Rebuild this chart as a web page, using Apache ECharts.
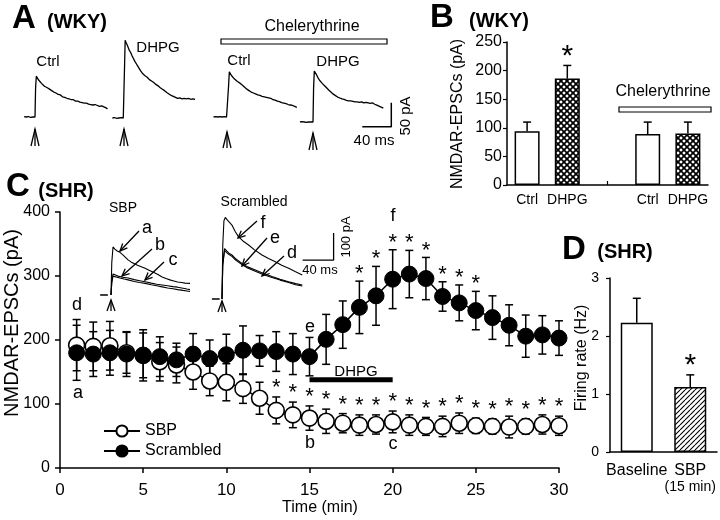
<!DOCTYPE html>
<html>
<head>
<meta charset="utf-8">
<script src="https://cdn.jsdelivr.net/npm/echarts@6/dist/echarts.min.js"></script>
<style>
html, body { margin: 0; padding: 0; background: #fff; }
#chart { width: 720px; height: 520px; }
</style>
</head>
<body>
<div id="chart"></div>
<script>
// ---------- panel A: example EPSC traces, [ms, pA] ----------
const wkyCtrlTrace = [[-15,1],[-12,0],[-9,1],[-6,-1],[-3,0],[0,0],[0.8,60],[1.8,85],[3,82],[5,77],[7,74],[9,70],[11,68],[13,64],[15,63],[17,61],[20,58],[23,55],[26,52],[29,50],[32,47],[35,46],[38,42],[41,41],[44,39],[47,38],[50,36],[53,36],[56,33],[59,33],[62,31],[65,30],[68,29],[71,29],[74,27],[77,26],[80,25],[83,26],[86,24],[89,22],[92,23],[95,21],[98,19],[100,17]]
const wkyDhpgTrace = [[-16,0],[-13,1],[-10,-1],[-7,0],[-4,1],[-1,0],[0,0],[0.8,110],[1.6,162],[3,157],[5,150],[7,142],[9,137],[11,130],[13,124],[15,118],[17,113],[19,108],[21,103],[23,98],[26,92],[29,88],[32,85],[35,80],[38,77],[41,74],[44,70],[47,67],[50,63],[53,60],[56,57],[59,53],[62,50],[65,47],[68,45],[71,43],[74,41],[77,42],[80,40],[83,41],[86,40],[89,41],[92,39],[95,40],[98,39]]
const chelCtrlTrace = [[-20,0],[-17,1],[-14,0],[-11,1],[-8,0],[-5,1],[-2,0],[0,0],[0.8,65],[1.8,94],[3,91],[5,86],[7,82],[9,79],[11,76],[13,74],[15,72],[17,70],[20,66],[23,62],[26,58],[29,55],[32,52],[35,50],[38,48],[41,46],[44,45],[47,43],[50,42],[53,41],[56,40],[59,39],[62,36],[65,35],[68,33],[71,32],[74,30],[77,29],[80,28],[83,26],[86,25],[89,24],[92,22],[95,20]]
const chelDhpgTrace = [[-18,0],[-15,1],[-12,0],[-9,-1],[-6,0],[-3,0],[0,0],[0.8,70],[1.8,106],[3,104],[5,98],[7,92],[9,87],[11,83],[13,80],[15,77],[17,74],[19,71],[22,66],[25,62],[28,58],[31,55],[34,52],[37,50],[40,48],[43,47],[46,45],[49,44],[52,44],[55,43],[58,42],[61,42],[64,41],[67,42],[70,40],[73,41],[76,40],[79,39],[82,40],[85,37],[88,35],[91,33],[94,31],[97,29]]
const scaleBarA = [[68,-10],[108,-10],[108,40]]   // 40 ms / 50 pA

// ---------- panel C insets, [ms, pA] ----------
const sbpBase = [[-14,0],[-4,0]]
const traceA = [[0,0],[1,120],[2.6,178],[5,170],[8,163],[11.6,158],[16,147],[22,130],[27,120],[33.5,111],[39,105],[44,99],[49,92],[54,85],[60,77],[66,67],[71,61],[76,56],[81,52],[86,48],[91,46],[95.5,44],[102,43]]
const traceB = [[0,0],[1,50],[2.6,78],[5,74],[9,70],[15,66],[22,63],[30,57],[37,53],[44,49],[52,44],[59,40],[66,37],[73,34],[80,31],[86,29],[93,25],[98,22],[102,20]]
const traceC = [[0,0],[1,45],[2.6,70],[5,67],[11.6,63],[17,59],[22,56],[30,50],[37,46],[44,43],[52,38],[59,34],[66,30],[73,26],[80,23],[86,20],[93,17],[98,15],[102,13]]
const scrBase = [[-13,0],[-3,0]]
const traceF = [[0,0],[1,200],[2.5,290],[4.3,302],[7,292],[10,283],[12.8,274],[17,250],[21.4,230],[27,215],[34.3,200],[42,182],[51.6,163],[60,150],[68.8,138],[77,125],[86,114],[95,101],[103.6,89]]
const traceE = [[0,0],[1,130],[3.3,187],[6,178],[9,170],[12.8,163],[18,148],[25.8,132],[33,119],[43,107],[53,95],[64.5,83],[75,73],[86,64],[95,57],[103.6,52]]
const traceD = [[0,0],[1,125],[3.3,180],[6,172],[9,165],[12.8,158],[18,143],[25.8,128],[33,115],[43,103],[53,91],[64.5,80],[75,70],[86,61],[95,53],[103.6,48]]
const scaleBarC = [[104,144],[144,144],[144,244]]  // 40 ms / 100 pA

// ---------- panel B ----------
const bCats = ['Ctrl', 'DHPG', '', 'Ctrl', 'DHPG']
const bMean = [94, 186, null, 89, 90]
const bSem = [16, 23, null, 21, 20]

// ---------- panel C time course ----------
const cTime = [1,2,3,4,5,6,7,8,9,10,11,12,13,14,15,16,17,18,19,20,21,22,23,24,25,26,27,28,29,30]
const sbpMean = [192,190,191,180,176,166,161,150,136,134,124,109,90,83,78,73,70,67,68,72,67,65,65,70,66,65,64,65,68,66]
const sbpSem = [40,38,38,32,35,30,28,27,23,29,23,25,21,20,19,19,15,16,15,17,16,14,16,16,12,12,17,12,15,15]
const scrMean = [180,178,180,178,176,174,169,178,171,177,184,183,182,178,174,201,224,251,269,295,303,296,268,258,246,235,223,206,208,203]
const scrSem = [43,35,35,35,40,31,26,32,29,32,38,24,31,32,30,39,37,41,46,46,37,33,23,28,30,34,32,33,30,27]
const sbpStars = [13,14,15,16,17,18,19,20,21,22,23,24,25,26,27,28,29,30]
const scrStars = [18,19,20,21,22,23,24,25]
const dhpgBar = [[15,138],[20,138]]

// ---------- panel D ----------
const dCats = ['Baseline', 'SBP']
const dMean = [2.23, 1.12]
const dSem = [0.42, 0.21]

const FONT = '"Liberation Sans", Arial, sans-serif'
const chart = echarts.init(document.getElementById('chart'))

function crossPattern () {
  const c = document.createElement('canvas')
  c.width = 6; c.height = 6
  const g = c.getContext('2d')
  g.fillStyle = '#fff'; g.fillRect(0, 0, 6, 6)
  g.strokeStyle = '#000'; g.lineWidth = 1.7
  g.beginPath()
  for (const k of [-6, 0, 6]) {
    g.moveTo(k, 0); g.lineTo(k + 6, 6)
    g.moveTo(k + 6, 0); g.lineTo(k, 6)
  }
  g.stroke()
  return c
}
function slashPattern () {
  const c = document.createElement('canvas')
  c.width = 5; c.height = 5
  const g = c.getContext('2d')
  g.fillStyle = '#fff'; g.fillRect(0, 0, 5, 5)
  g.strokeStyle = '#000'; g.lineWidth = 1.1
  g.beginPath()
  for (const k of [-5, 0, 5]) { g.moveTo(k, 5); g.lineTo(k + 5, 0) }
  g.stroke()
  return c
}
const crossFill = { image: crossPattern(), repeat: 'repeat' }
const slashFill = { image: slashPattern(), repeat: 'repeat' }

// place a hidden grid so that (0 ms, 0 pA) lands on the stimulus pixel
function traceGrid (sx, sy, t0, t1, a0, a1, kx, ky) {
  return {
    grid: { left: sx + t0 * kx, top: sy - a1 * ky, width: (t1 - t0) * kx, height: (a1 - a0) * ky, outerBoundsMode: 'none', containLabel: false },
    x: { type: 'value', min: t0, max: t1, show: false },
    y: { type: 'value', min: a0, max: a1, show: false }
  }
}
const tg = [
  traceGrid(35, 117, -16, 102, -12, 170, 0.725, 0.48),
  traceGrid(124, 118, -18, 100, -12, 170, 0.725, 0.48),
  traceGrid(228, 117, -22, 98, -12, 170, 0.725, 0.48),
  traceGrid(313, 122, -20, 110, -15, 170, 0.725, 0.48),
  traceGrid(111, 295, -16, 104, -10, 200, 0.775, 0.27),
  traceGrid(222, 299, -16, 150, -10, 320, 0.775, 0.27)
]

const grids = tg.map(t => t.grid).concat([
  { left: 507, top: 42, right: 12, bottom: 335, outerBoundsMode: 'none', containLabel: false },
  { left: 60, top: 212, right: 161, bottom: 52, outerBoundsMode: 'none', containLabel: false },
  { left: 610, top: 278, right: 3, bottom: 68, outerBoundsMode: 'none', containLabel: false }
])

const axisLine = { show: true, lineStyle: { color: '#000', width: 1.5 } }
const tickOut = { show: true, length: 5, lineStyle: { color: '#000', width: 1.5 } }

const xAxes = tg.map(t => t.x).concat([
  { type: 'category', gridIndex: 6, data: bCats, axisLine,
    axisTick: { show: true, inside: true, length: 4, alignWithLabel: true, interval: (i) => i === 2, lineStyle: { color: '#000', width: 1.2 } },
    axisLabel: { interval: 0, fontSize: 14, color: '#000', margin: 8, fontFamily: FONT } },
  { type: 'value', gridIndex: 7, min: 0, max: 30, interval: 5, axisLine, axisTick: tickOut, splitLine: { show: false },
    axisLabel: { fontSize: 17, color: '#000', margin: 14, fontFamily: FONT } },
  { type: 'category', gridIndex: 8, data: dCats, axisLine, axisTick: { show: false },
    axisLabel: {
      interval: 0, margin: 10, color: '#000', fontFamily: FONT,
      formatter: (v) => v === 'SBP' ? '{a|SBP}\n{b|(15 min)}' : '{a|' + v + '}',
      rich: { a: { fontSize: 16, lineHeight: 17, fontFamily: FONT }, b: { fontSize: 14, lineHeight: 16, fontFamily: FONT } }
    } }
])
xAxes.forEach((a, i) => { if (i < 6) a.gridIndex = i })

const yAxes = tg.map(t => t.y).concat([
  { type: 'value', gridIndex: 6, min: 0, max: 250, interval: 50, axisLine, axisTick: { show: true, length: 4, lineStyle: { color: '#000', width: 1.2 } },
    splitLine: { show: false }, axisLabel: { fontSize: 16, color: '#000', margin: 5, fontFamily: FONT } },
  { type: 'value', gridIndex: 7, min: 0, max: 400, interval: 100, axisLine, axisTick: tickOut,
    splitLine: { show: false }, axisLabel: { fontSize: 16, color: '#000', margin: 10, fontFamily: FONT } },
  { type: 'value', gridIndex: 8, min: 0, max: 3, interval: 1, axisLine, axisTick: { show: true, length: 4, lineStyle: { color: '#000', width: 1.2 } },
    splitLine: { show: false }, axisLabel: { fontSize: 14, color: '#000', margin: 11, fontFamily: FONT } }
])
yAxes.forEach((a, i) => { if (i < 6) a.gridIndex = i })

function trace (data, idx, w) {
  return { type: 'line', xAxisIndex: idx, yAxisIndex: idx, data, showSymbol: false, symbol: 'none',
    lineStyle: { color: '#000', width: w || 1.3 }, silent: true, z: 2 }
}

function errBars (both, capW) {
  return function (params, api) {
    const x = api.value(0)
    const y = api.value(1)
    const e = api.value(2)
    const top = api.coord([x, y + e])
    const bot = api.coord([x, both ? y - e : y])
    const st = { stroke: '#000', lineWidth: 1.5 }
    const ch = [
      { type: 'line', shape: { x1: top[0], y1: top[1], x2: bot[0], y2: bot[1] }, style: st },
      { type: 'line', shape: { x1: top[0] - capW / 2, y1: top[1], x2: top[0] + capW / 2, y2: top[1] }, style: st }
    ]
    if (both) ch.push({ type: 'line', shape: { x1: bot[0] - capW / 2, y1: bot[1], x2: bot[0] + capW / 2, y2: bot[1] }, style: st })
    return { type: 'group', children: ch }
  }
}

function starSeries (data, idx, size, gap) {
  return {
    type: 'custom', xAxisIndex: idx, yAxisIndex: idx, data, silent: true, z: 6,
    renderItem: (params, api) => {
      const p = api.coord([api.value(0), api.value(1)])
      return { type: 'text', x: p[0], y: p[1] - gap,
        style: { text: '*', font: size + 'px ' + FONT, fill: '#000', align: 'center', verticalAlign: 'middle', textAlign: 'center', textVerticalAlign: 'middle' } }
    }
  }
}

const sbpErr = cTime.map((t, i) => [t, sbpMean[i], sbpSem[i]])
const scrErr = cTime.map((t, i) => [t, scrMean[i], scrSem[i]])
const sbpStarPts = sbpStars.map(t => { const i = cTime.indexOf(t); return [t, sbpMean[i] + sbpSem[i]] })
const scrStarPts = scrStars.map(t => { const i = cTime.indexOf(t); return [t, scrMean[i] + scrSem[i]] })
const bErr = bMean.map((v, i) => v == null ? null : [i, v, bSem[i]]).filter(d => d)
const dErr = dMean.map((v, i) => [i, v, dSem[i]])

const series = [
  trace(wkyCtrlTrace, 0), trace(wkyDhpgTrace, 1), trace(chelCtrlTrace, 2), trace(chelDhpgTrace, 3),
  trace(scaleBarA, 3, 1.5),
  trace(sbpBase, 4, 1.5), trace(traceA, 4, 1.1), trace(traceB, 4, 1.1), trace(traceC, 4, 1.1),
  trace(scrBase, 5, 1.5), trace(traceF, 5, 1.1), trace(traceE, 5, 1.1), trace(traceD, 5, 1.1),
  trace(scaleBarC, 5, 1.3),
  // panel B
  { type: 'bar', xAxisIndex: 6, yAxisIndex: 6, barWidth: 25, silent: true, z: 2,
    data: bMean.map((v, i) => ({ value: v == null ? '-' : v,
      itemStyle: { color: bCats[i] === 'DHPG' ? crossFill : '#fff', borderColor: '#000', borderWidth: 1.5 } })) },
  { type: 'custom', xAxisIndex: 6, yAxisIndex: 6, data: bErr, renderItem: errBars(false, 8), silent: true, z: 1 },
  starSeries([[1, bMean[1] + bSem[1]]], 6, 30, 9),
  // panel C
  { type: 'custom', xAxisIndex: 7, yAxisIndex: 7, data: sbpErr, renderItem: errBars(true, 8), silent: true, z: 1 },
  { type: 'custom', xAxisIndex: 7, yAxisIndex: 7, data: scrErr, renderItem: errBars(true, 8), silent: true, z: 1 },
  { name: 'SBP', type: 'line', xAxisIndex: 7, yAxisIndex: 7, data: cTime.map((t, i) => [t, sbpMean[i]]),
    symbol: 'circle', symbolSize: 16, showSymbol: true, lineStyle: { color: '#000', width: 1.5 },
    itemStyle: { color: '#fff', borderColor: '#000', borderWidth: 1.6 }, z: 3, silent: true },
  { name: 'Scrambled', type: 'line', xAxisIndex: 7, yAxisIndex: 7, data: cTime.map((t, i) => [t, scrMean[i]]),
    symbol: 'circle', symbolSize: 16, showSymbol: true, lineStyle: { color: '#000', width: 1.5 },
    itemStyle: { color: '#000', borderColor: '#000', borderWidth: 1 }, z: 4, silent: true },
  { type: 'line', xAxisIndex: 7, yAxisIndex: 7, data: dhpgBar, symbol: 'none', lineStyle: { color: '#000', width: 5 }, silent: true, z: 2 },
  starSeries(sbpStarPts, 7, 22, 9),
  starSeries(scrStarPts, 7, 22, 7),
  // panel D
  { type: 'bar', xAxisIndex: 8, yAxisIndex: 8, barWidth: 32, silent: true, z: 2,
    data: dMean.map((v, i) => ({ value: v,
      itemStyle: { color: i === 1 ? slashFill : '#fff', borderColor: '#000', borderWidth: 1.5 } })) },
  { type: 'custom', xAxisIndex: 8, yAxisIndex: 8, data: dErr, renderItem: errBars(false, 8), silent: true, z: 1 },
  starSeries([[1, dMean[1] + dSem[1]]], 8, 30, 9)
]

// ---------- annotations ----------
function txt (s, x, y, size, bold, rot) {
  return { type: 'text', x, y, rotation: rot || 0, silent: true,
    style: { text: s, font: (bold ? 'bold ' : '') + size + 'px ' + FONT, fill: '#000',
      align: 'center', verticalAlign: 'middle', textAlign: 'center', textVerticalAlign: 'middle' } }
}
function arrow (x1, y1, x2, y2) {
  const a = Math.atan2(y2 - y1, x2 - x1)
  const L = 8
  const w = 0.42
  const p1 = [x2 - L * Math.cos(a - w), y2 - L * Math.sin(a - w)]
  const p2 = [x2 - L * Math.cos(a + w), y2 - L * Math.sin(a + w)]
  return [
    { type: 'line', silent: true, shape: { x1, y1, x2, y2 }, style: { stroke: '#000', lineWidth: 1.3 } },
    { type: 'polyline', silent: true, shape: { points: [p1, [x2, y2], p2] }, style: { stroke: '#000', fill: null, lineWidth: 1.3 } }
  ]
}
function stim (x, y0, y1) {
  return [
    { type: 'polyline', silent: true, shape: { points: [[x - 4, y1], [x, y0], [x + 4, y1]] }, style: { stroke: '#000', fill: null, lineWidth: 1.3 } },
    { type: 'line', silent: true, shape: { x1: x, y1: y0, x2: x, y2: y1 }, style: { stroke: '#000', lineWidth: 1.3 } }
  ]
}
function openBar (x, y, w, h) {
  return { type: 'rect', silent: true, shape: { x, y, width: w, height: h }, style: { fill: '#fff', stroke: '#000', lineWidth: 1.2 } }
}

const elements = [
  txt('A', 24, 19, 33, true), txt('(WKY)', 77, 22, 20, true),
  txt('B', 442, 18, 33, true), txt('(WKY)', 499, 21, 20, true),
  txt('C', 18, 187, 33, true), txt('(SHR)', 66, 191, 20, true),
  txt('D', 574, 250, 33, true), txt('(SHR)', 625, 252, 20, true),
  // panel A
  txt('Ctrl', 48, 62, 15), txt('DHPG', 158, 48, 15), txt('Chelerythrine', 312, 27, 16),
  txt('Ctrl', 239, 61, 15), txt('DHPG', 338, 62, 15),
  openBar(221, 39, 166, 5),
  txt('50 pA', 406, 116, 15, false, Math.PI / 2), txt('40 ms', 374, 141, 15),
  ...stim(35, 129, 146), ...stim(124, 129, 146), ...stim(227, 132, 148), ...stim(313, 133, 150),
  // panel B
  txt('Chelerythrine', 663, 92, 16), openBar(619, 107, 92, 5),
  txt('NMDAR-EPSCs (pA)', 458, 114, 16, false, Math.PI / 2),
  // panel C
  txt('NMDAR-EPSCs (pA)', 12, 323, 20, false, Math.PI / 2),
  txt('Time (min)', 320, 508, 16),
  txt('SBP', 123, 208, 14), txt('Scrambled', 254, 202, 14),
  txt('40 ms', 320, 270, 13), txt('100 pA', 346, 237, 13, false, Math.PI / 2),
  ...stim(111, 300, 311), ...stim(222, 301, 312),
  txt('a', 147, 228, 18), txt('b', 160, 245, 18), txt('c', 173, 260, 18),
  txt('f', 263, 223, 18), txt('e', 275, 238, 18), txt('d', 292, 253, 18),
  ...arrow(139, 231, 120, 251), ...arrow(152, 249, 122, 276), ...arrow(164, 262, 145, 280),
  ...arrow(257, 221, 238, 238), ...arrow(267, 238, 242, 266), ...arrow(284, 256, 262, 276),
  txt('d', 77, 305, 18), txt('a', 78, 393, 18), txt('e', 310, 327, 18), txt('b', 310, 443, 18),
  txt('f', 393, 216, 18), txt('c', 393, 444, 18),
  txt('DHPG', 356, 372, 15),
  // panel D
  txt('Firing rate (Hz)', 582, 358, 16, false, Math.PI / 2)
]

chart.setOption({
  animation: false,
  backgroundColor: '#fff',
  textStyle: { fontFamily: FONT, color: '#000' },
  grid: grids,
  xAxis: xAxes,
  yAxis: yAxes,
  legend: {
    data: ['SBP', 'Scrambled'], left: 98, top: 418, orient: 'vertical',
    itemWidth: 36, itemHeight: 14, itemGap: 4, selectedMode: false,
    textStyle: { fontSize: 16, color: '#000', fontFamily: FONT }
  },
  series,
  graphic: { elements }
})
</script>
</body>
</html>
